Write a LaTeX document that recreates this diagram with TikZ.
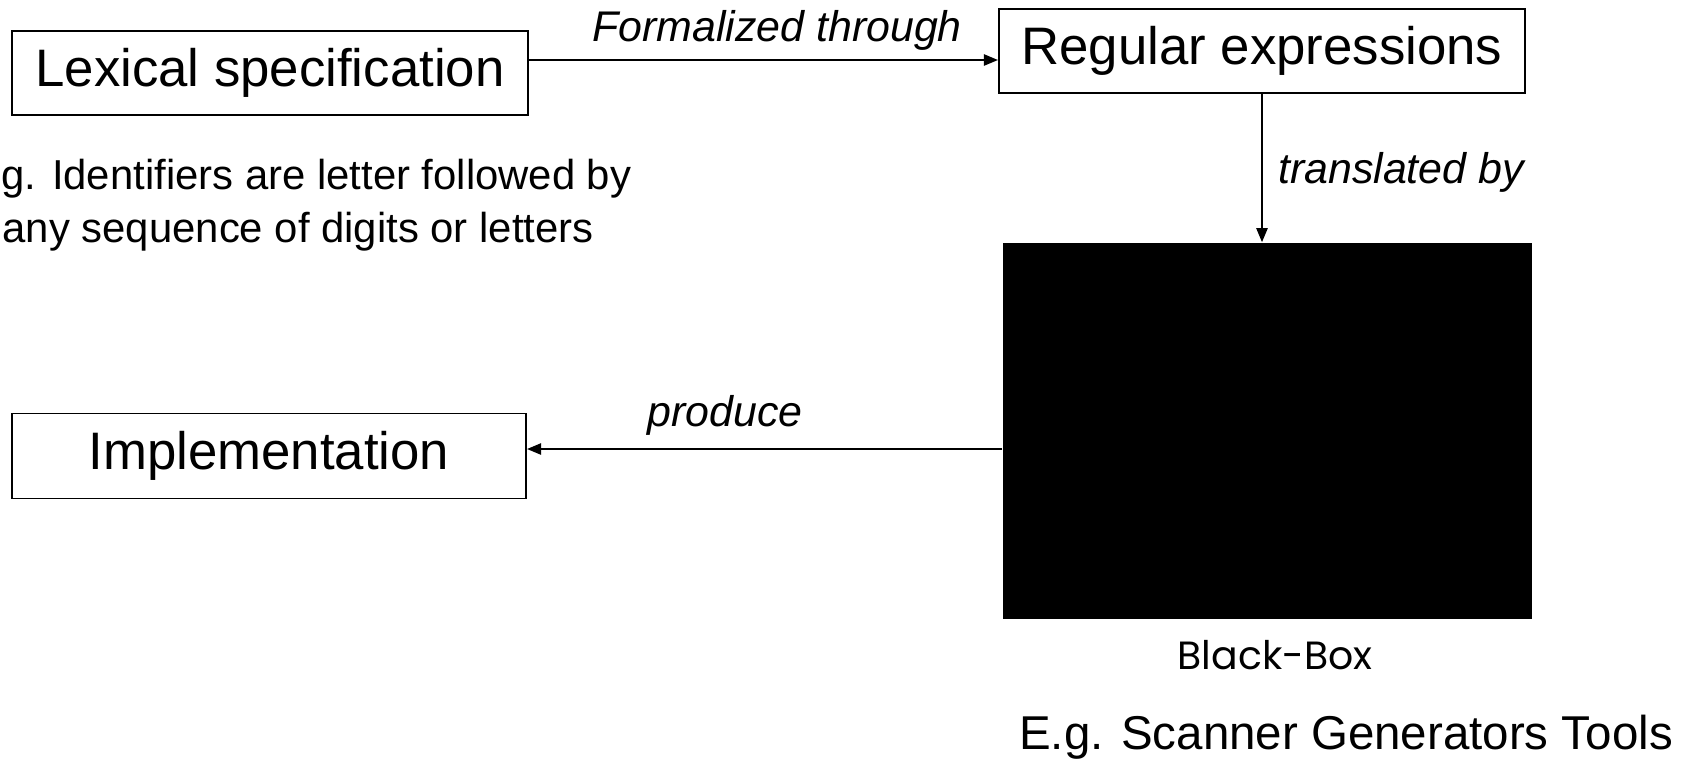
\documentclass[tikz,border=0pt]{standalone}
\usepackage{fontspec}
\setmainfont{Liberation Sans}
\newfontfamily\handfont{Poppins}
\usetikzlibrary{arrows.meta}

\begin{document}
\begin{tikzpicture}[x=0.01cm,y=-0.01cm,
  stage/.style={draw,line width=0.5pt,inner sep=0pt,minimum height=0.84cm,font=\fontsize{15}{18}\selectfont},
  flow/.style={-{Triangle[length=4pt,width=3.2pt]},line width=0.5pt},
  verb/.style={inner sep=0pt,font=\fontsize{12.2}{14}\selectfont\itshape},
  note/.style={inner sep=0pt,anchor=west,font=\fontsize{11.9}{14}\selectfont}]
  \useasboundingbox (0,0) rectangle (1687,760);
  % boxes of the pipeline
  \node[stage,minimum width=5.15cm] (lex) at (270,73) {Lexical specification};
  \node[stage,minimum width=5.26cm] (regex) at (1262,51) {Regular expressions};
  \node[stage,minimum width=5.14cm,minimum height=0.85cm] (impl) at (269,456) {Implementation};
  \node[fill=black,inner sep=0pt,minimum width=5.29cm,minimum height=3.76cm] (bbox) at (1267.5,431) {};
  % connectors
  \coordinate (fy) at (0,60);
  \coordinate (py) at (0,449);
  \draw[flow] (lex.east |- fy) -- (regex.west |- fy);
  \draw[flow] (regex.south) -- (regex.south |- bbox.north);
  \draw[flow] (bbox.west |- py) -- (impl.east |- py);
  \node[verb] (formal) at (777,30) {Formalized through};
  \node[verb] (transl) at (1401,172) {translated by};
  \node[verb] (prod) at (725,415) {produce};
  % side notes
  \node[note] (ex1) at (1,179) {g. Identifiers are letter followed by};
  \node[note] (ex2) at (2,232) {any sequence of digits or letters};
  \node[inner sep=0pt,font=\handfont\fontsize{11.2}{13}\selectfont] (bblabel) at (1275,655) {Black-Box};
  \node[inner sep=0pt,font=\fontsize{13.5}{16}\selectfont] (tools) at (1346,737) {E.g. Scanner Generators Tools};
\end{tikzpicture}
\end{document}
